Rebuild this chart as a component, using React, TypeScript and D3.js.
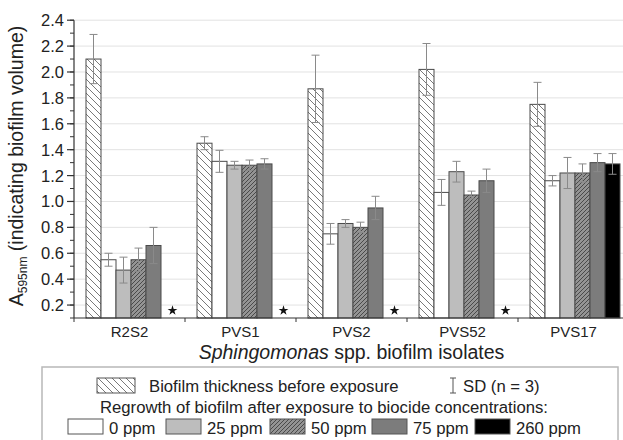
import React from "react";
import * as d3 from "d3";

const categories = ["R2S2", "PVS1", "PVS2", "PVS52", "PVS17"];
const seriesKeys = ["before", "ppm0", "ppm25", "ppm50", "ppm75", "ppm260"];
const before = [2.1, 1.45, 1.87, 2.02, 1.75];
const beforeSD = [0.19, 0.05, 0.26, 0.2, 0.17];
const ppm0 = [0.55, 1.31, 0.75, 1.07, 1.16];
const ppm0SD = [0.05, 0.085, 0.08, 0.1, 0.04];
const ppm25 = [0.47, 1.28, 0.83, 1.23, 1.22];
const ppm25SD = [0.1, 0.03, 0.03, 0.08, 0.12];
const ppm50 = [0.55, 1.28, 0.8, 1.05, 1.22];
const ppm50SD = [0.09, 0.04, 0.04, 0.03, 0.07];
const ppm75 = [0.66, 1.29, 0.95, 1.16, 1.3];
const ppm75SD = [0.14, 0.04, 0.09, 0.09, 0.07];
const ppm260: (number | null)[] = [null, null, null, null, 1.29];
const ppm260SD: (number | null)[] = [null, null, null, null, 0.08];
const yTicks = [0.2, 0.4, 0.6, 0.8, 1.0, 1.2, 1.4, 1.6, 1.8, 2.0, 2.2, 2.4];
const legendLabels = ["0 ppm", "25 ppm", "50 ppm", "75 ppm", "260 ppm"];

const values: (number | null)[][] = [before, ppm0, ppm25, ppm50, ppm75, ppm260];
const sds: (number | null)[][] = [beforeSD, ppm0SD, ppm25SD, ppm50SD, ppm75SD, ppm260SD];
const fills = ["url(#hatchBefore)", "#ffffff", "#bdbdbd", "url(#hatch50)", "#7c7c7c", "#000000"];

const FONT = "'Liberation Sans', Arial, sans-serif";

export default function App() {
  const W = 623, H = 440;
  const left = 74, right = 629, top = 20.2, bottom = 318;
  const x = d3.scaleBand<string>().domain(categories).range([left, right]).padding(0);
  const y = d3.scaleLinear().domain([0.1, 2.4]).range([bottom, top]);
  const inner = d3.scaleBand<string>().domain(seriesKeys).range([12, 102]).padding(0);
  const bw = inner.bandwidth();
  const minorTicks = d3.range(0.1, 2.41, 0.1).map((v) => Math.round(v * 10) / 10);
  const star = d3.symbol().type(d3.symbolStar).size(30)();

  const legendRow3X = [68, 166, 270, 372, 475];

  return (
    <svg width={W} height={H} style={{ position: "absolute", left: 0, top: 0, background: "#fff" }} fontFamily={FONT}>
      <defs>
        <pattern id="hatchBefore" patternUnits="userSpaceOnUse" width={7} height={7}>
          <rect width={7} height={7} fill="#fff" />
          <path d="M0,0 L7,7 M-1,6 L1,8 M6,-1 L8,1" stroke="#6a6a6a" strokeWidth={0.9} />
        </pattern>
        <pattern id="hatch50" patternUnits="userSpaceOnUse" width={4} height={4}>
          <rect width={4} height={4} fill="#949494" />
          <path d="M-1,1 L1,-1 M0,4 L4,0 M3,5 L5,3" stroke="#4a4a4a" strokeWidth={1} />
        </pattern>
      </defs>

      {/* grid */}
      {yTicks.map((t) => (
        <line key={"g" + t} x1={left} x2={right} y1={y(t)} y2={y(t)} stroke="#e2e2e2" strokeWidth={1} />
      ))}

      {/* bars */}
      {categories.map((c, ci) => (
        <g key={c}>
          {seriesKeys.map((k, si) => {
            const v = values[si][ci];
            const bx = (x(c) as number) + (inner(k) as number);
            if (v == null) {
              return (
                <path key={k} d={star as string} transform={`translate(${bx + bw / 2 + 4},${y(0.158)})`} fill="#111" />
              );
            }
            return (
              <rect key={k} x={bx} y={y(v)} width={bw} height={bottom - y(v)} fill={fills[si]} stroke="#4a4a4a" strokeWidth={1} />
            );
          })}
          {seriesKeys.map((k, si) => {
            const v = values[si][ci];
            const sd = sds[si][ci];
            if (v == null || sd == null) return null;
            const cx = (x(c) as number) + (inner(k) as number) + bw / 2;
            return (
              <g key={"e" + k} stroke="#8a8a8a" strokeWidth={1}>
                <line x1={cx} x2={cx} y1={y(v + sd)} y2={y(v - sd)} />
                <line x1={cx - 4} x2={cx + 4} y1={y(v + sd)} y2={y(v + sd)} />
                <line x1={cx - 4} x2={cx + 4} y1={y(v - sd)} y2={y(v - sd)} />
              </g>
            );
          })}
        </g>
      ))}

      {/* y axis */}
      <line x1={left} x2={left} y1={top} y2={bottom} stroke="#333" strokeWidth={1.2} />
      {minorTicks.map((t) => (
        <line key={"m" + t} x1={left - 4} x2={left} y1={y(t)} y2={y(t)} stroke="#333" strokeWidth={1} />
      ))}
      {yTicks.map((t) => (
        <g key={"t" + t}>
          <line x1={left - 7} x2={left} y1={y(t)} y2={y(t)} stroke="#333" strokeWidth={1.2} />
          <text x={left - 10} y={y(t)} dy="0.36em" textAnchor="end" fontSize={16.5} fill="#222">
            {t.toFixed(1)}
          </text>
        </g>
      ))}

      {/* x axis */}
      <line x1={left} x2={right} y1={bottom} y2={bottom} stroke="#333" strokeWidth={1.2} />
      {categories.map((c) => (
        <g key={"x" + c}>
          <line x1={x(c) as number} x2={x(c) as number} y1={bottom} y2={bottom + 4} stroke="#333" strokeWidth={1} />
          <text x={(x(c) as number) + x.bandwidth() / 2} y={337} textAnchor="middle" fontSize={15} fill="#222">
            {c}
          </text>
        </g>
      ))}
      <text x={(left + right) / 2} y={359} textAnchor="middle" fontSize={19.5} fill="#222">
        <tspan fontStyle="italic">Sphingomonas</tspan> spp. biofilm isolates
      </text>

      {/* y title */}
      <text transform={`translate(23,${(25 + 307) / 2}) rotate(-90)`} textAnchor="middle" fontSize={19.5} fill="#222">
        <tspan>A</tspan>
        <tspan fontSize={12} dy={4}>595nm</tspan>
        <tspan dy={-4}> (indicating biofilm volume)</tspan>
      </text>

      {/* legend */}
      <rect x={42} y={367} width={576} height={90} fill="#fff" stroke="#b8b8b8" strokeWidth={1.5} />
      <rect x={97} y={378} width={38} height={15} fill="url(#hatchBefore)" stroke="#555" strokeWidth={1} />
      <text x={149} y={392} fontSize={16.7} fill="#222">Biofilm thickness before exposure</text>
      <g stroke="#555" strokeWidth={1}>
        <line x1={453} x2={453} y1={378} y2={393} />
        <line x1={450} x2={456} y1={378} y2={378} />
        <line x1={450} x2={456} y1={393} y2={393} />
      </g>
      <text x={463} y={392} fontSize={16.7} fill="#222">SD (n = 3)</text>
      <text x={324} y={413} textAnchor="middle" fontSize={16.7} fill="#222">
        Regrowth of biofilm after exposure to biocide concentrations:
      </text>
      {legendLabels.map((l, i) => (
        <g key={l}>
          <rect x={legendRow3X[i]} y={419} width={35} height={15} fill={fills[i + 1]} stroke="#555" strokeWidth={1} />
          <text x={legendRow3X[i] + 41} y={434} fontSize={16.7} fill="#222">{l}</text>
        </g>
      ))}
    </svg>
  );
}
